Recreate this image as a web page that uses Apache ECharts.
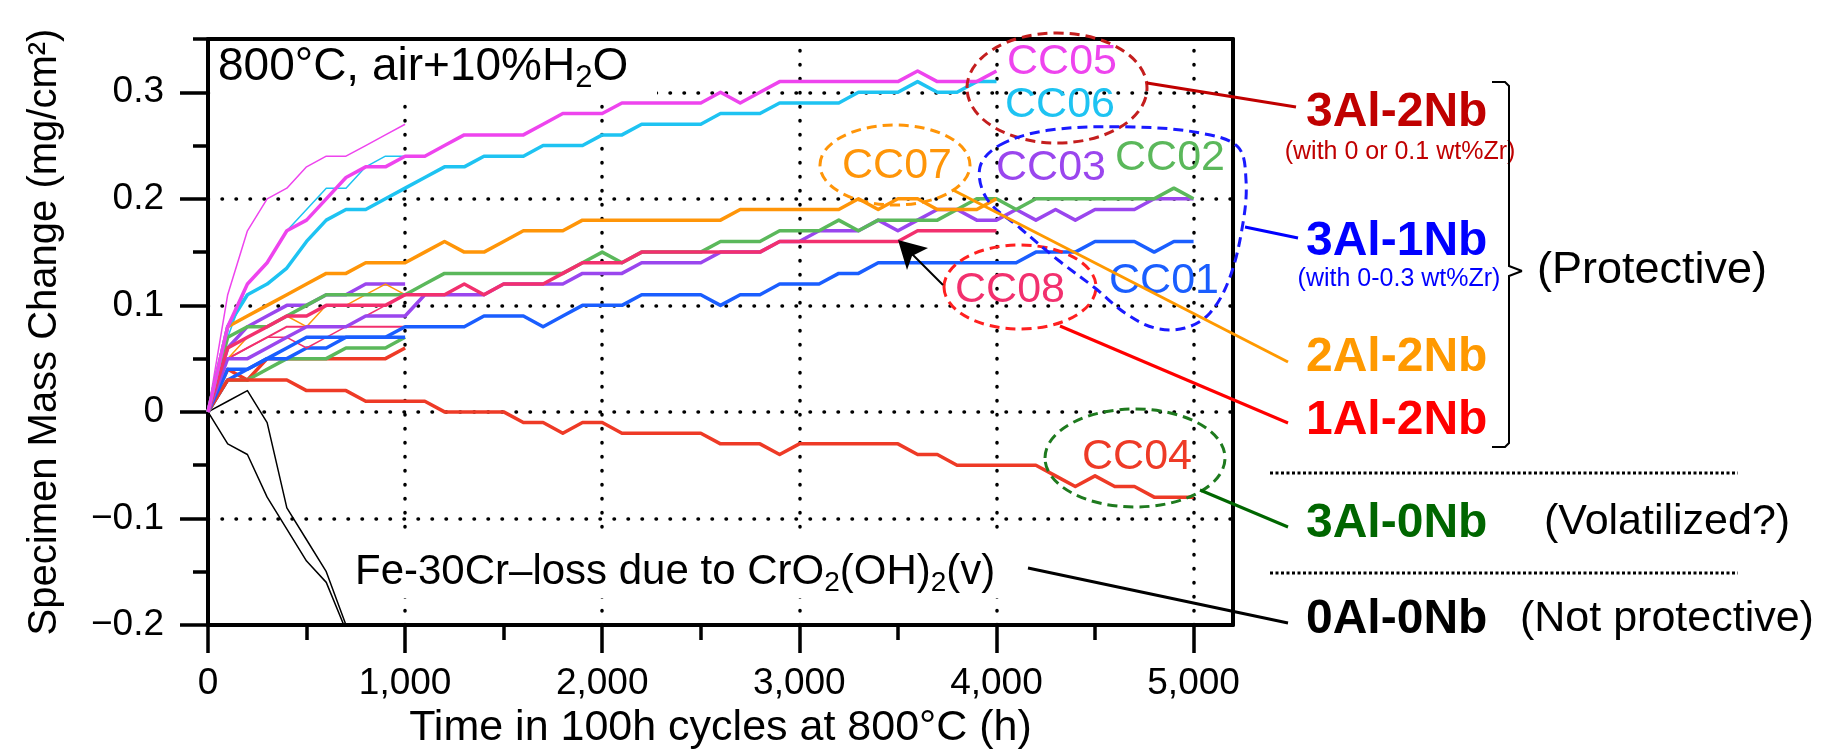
<!DOCTYPE html>
<html><head><meta charset="utf-8">
<script src="https://cdn.jsdelivr.net/npm/echarts@6/dist/echarts.min.js"></script>
<style>html,body{margin:0;padding:0;background:#fff}#c{width:1831px;height:753px}</style>
</head><body><div id="c"></div><script>
const FONT = '"Liberation Sans", Arial, Helvetica, sans-serif';

// ---- axes / ticks ----
const X_TICKS = [0, 1000, 2000, 3000, 4000, 5000];
const X_LABELS = ['0', '1,000', '2,000', '3,000', '4,000', '5,000'];
const X_MINOR = [500, 1500, 2500, 3500, 4500];
const Y_TICKS = [-0.2, -0.1, 0, 0.1, 0.2, 0.3];
const Y_LABELS = ['\u22120.2', '\u22120.1', '0', '0.1', '0.2', '0.3'];
const Y_MINOR = [-0.15, -0.05, 0.05, 0.15, 0.25, 0.35];
const GRID_X = [1000, 2000, 3000, 4000, 5000];
const GRID_Y = [-0.1, 0, 0.1, 0.2, 0.3];

// ---- time (h) ----
const HOURS = [0,100,200,300,400,500,600,700,800,900,1000,1100,1200,1300,1400,1500,1600,1700,1800,1900,2000,
  2100,2200,2300,2400,2500,2600,2700,2800,2900,3000,3100,3200,3300,3400,3500,3600,3700,3800,3900,4000,
  4100,4200,4300,4400,4500,4600,4700,4800,4900,5000];

// ---- long-term series (mg/cm2) ----
const CC05 = [0,0.08,0.12,0.14,0.17,0.18,0.20,0.22,0.23,0.23,0.24,0.24,0.25,0.26,0.26,0.26,0.26,0.27,0.28,0.28,0.28,
  0.29,0.29,0.29,0.29,0.29,0.30,0.29,0.30,0.31,0.31,0.31,0.31,0.31,0.31,0.31,0.32,0.31,0.31,0.31,0.32];
const CC06 = [0,0.08,0.11,0.12,0.135,0.16,0.18,0.19,0.19,0.20,0.21,0.22,0.23,0.23,0.24,0.24,0.24,0.25,0.25,0.25,0.26,
  0.26,0.27,0.27,0.27,0.27,0.28,0.28,0.28,0.29,0.29,0.29,0.29,0.30,0.30,0.30,0.31,0.30,0.30,0.31,0.31];
const CC07 = [0,0.08,0.09,0.10,0.11,0.12,0.13,0.13,0.14,0.14,0.14,0.15,0.16,0.15,0.15,0.16,0.17,0.17,0.17,0.18,0.18,
  0.18,0.18,0.18,0.18,0.18,0.18,0.19,0.19,0.19,0.19,0.19,0.19,0.20,0.19,0.20,0.20,0.19,0.19,0.19,0.20];
const CC08 = [0,0.06,0.07,0.08,0.09,0.09,0.10,0.10,0.10,0.10,0.11,0.11,0.11,0.12,0.11,0.12,0.12,0.12,0.13,0.14,0.14,
  0.14,0.15,0.15,0.15,0.15,0.15,0.15,0.15,0.16,0.16,0.16,0.16,0.16,0.16,0.16,0.17,0.17,0.17,0.17,0.17];
const CC02 = [0,0.07,0.08,0.08,0.09,0.10,0.11,0.11,0.11,0.11,0.11,0.12,0.13,0.13,0.13,0.13,0.13,0.13,0.13,0.14,0.15,
  0.14,0.15,0.15,0.15,0.15,0.16,0.16,0.16,0.17,0.17,0.17,0.18,0.17,0.18,0.18,0.18,0.18,0.19,0.20,0.20,
  0.19,0.20,0.20,0.20,0.20,0.20,0.20,0.20,0.21,0.20];
const CC03 = [0,0.05,0.05,0.06,0.07,0.08,0.08,0.08,0.09,0.09,0.09,0.11,0.11,0.11,0.11,0.12,0.12,0.12,0.12,0.13,0.13,
  0.13,0.14,0.14,0.14,0.14,0.15,0.15,0.15,0.16,0.16,0.17,0.17,0.17,0.18,0.17,0.18,0.19,0.19,0.18,0.18,
  0.19,0.18,0.19,0.18,0.19,0.19,0.19,0.20,0.20,0.20];
const CC01 = [0,0.04,0.04,0.05,0.06,0.07,0.07,0.07,0.07,0.07,0.08,0.08,0.08,0.08,0.09,0.09,0.09,0.08,0.09,0.10,0.10,
  0.10,0.11,0.11,0.11,0.11,0.10,0.11,0.11,0.12,0.12,0.12,0.13,0.13,0.14,0.14,0.14,0.14,0.14,0.14,0.14,
  0.14,0.15,0.15,0.15,0.16,0.16,0.16,0.15,0.16,0.16];
const CC04 = [0,0.03,0.03,0.03,0.03,0.02,0.02,0.02,0.01,0.01,0.01,0.01,0,0,0,0,-0.01,-0.01,-0.02,-0.01,-0.01,
  -0.02,-0.02,-0.02,-0.02,-0.02,-0.03,-0.03,-0.03,-0.04,-0.03,-0.03,-0.03,-0.03,-0.03,-0.03,-0.04,-0.04,-0.05,-0.05,-0.05,
  -0.05,-0.05,-0.06,-0.07,-0.06,-0.07,-0.07,-0.08,-0.08,-0.08];

// ---- short-term (1,000 h) series ----
const S_MAG = [0,0.11,0.17,0.20,0.21,0.23,0.24,0.24,0.25,0.26,0.27];
const S_CYAN = [0,0.07,0.12,0.14,0.17,0.19,0.21,0.21,0.23,0.24,0.24];
const S_ORANGE = [0,0.05,0.07,0.08,0.09,0.08,0.10,0.10,0.11,0.12,0.11];
const S_PINK1 = [0,0.05,0.06,0.07,0.07,0.06,0.07,0.08,0.09,0.10,0.11];
const S_PINK2 = [0,0.05,0.06,0.07,0.08,0.08,0.08,0.08,0.08,0.08,0.08];
const S_PURPLE = [0,0.06,0.08,0.09,0.10,0.10,0.11,0.11,0.12,0.12,0.12];
const S_BLUE = [0,0.03,0.04,0.05,0.05,0.06,0.06,0.07,0.07,0.07,0.07];
const S_GREEN = [0,0.03,0.03,0.04,0.05,0.05,0.05,0.06,0.06,0.06,0.07];
const S_RED = [0,0.04,0.03,0.05,0.05,0.05,0.05,0.05,0.05,0.05,0.06];

// ---- Fe-30Cr (0Al-0Nb) ----
const FE1 = [0,-0.03,-0.04,-0.08,-0.11,-0.14,-0.16,-0.205,-0.25];
const FE2 = [0,0.01,0.02,-0.01,-0.09,-0.12,-0.15,-0.20,-0.25];

const C = {mag:'#EE44EE', cyan:'#1EC3F2', orange:'#FF9508', pink:'#F2306E', green:'#5BB85B',
  purple:'#9A46EE', blue:'#1A5EFF', red:'#EE3A26'};

function pairs(vals){ return vals.map((v,i)=>[HOURS[i], v]); }
function lab(ticks, labels, v){ const i = ticks.findIndex(t=>Math.abs(t-v)<1e-9); return i<0?'':labels[i]; }
function ln(name, vals, color, w, z){
  return {type:'line', name, data:pairs(vals), showSymbol:false, symbol:'none', silent:true, z:z||3,
    lineStyle:{color, width:w, join:'round'}, itemStyle:{color}};
}
const dotted = {color:'#000', width:3.5, type:[0.5,13.5], cap:'round', opacity:1};

const series = [
  {type:'line', name:'grid', data:[[0,0]], showSymbol:false, symbol:'none', silent:true, z:1,
   lineStyle:{opacity:0},
   markLine:{silent:true, z:1, symbol:'none', label:{show:false}, lineStyle:dotted, animation:false,
     data:[...GRID_Y.map(v=>({yAxis:v})), ...GRID_X.map(v=>({xAxis:v}))]}},
  ln('Fe1', FE1, '#000', 1.5), ln('Fe2', FE2, '#000', 1.5),
  ln('sRed', S_RED, C.red, 3.5), ln('sGreen', S_GREEN, C.green, 3.5), ln('sBlue', S_BLUE, C.blue, 3.5),
  ln('sPurple', S_PURPLE, C.purple, 3.5), ln('sPink2', S_PINK2, C.pink, 2),
  ln('sPink1', S_PINK1, C.pink, 1.5), ln('sOrange', S_ORANGE, C.orange, 1.5),
  ln('sCyan', S_CYAN, C.cyan, 1.5), ln('sMag', S_MAG, C.mag, 1.5),
  ln('CC04', CC04, C.red, 3.5, 4), ln('CC01', CC01, C.blue, 3.5, 4), ln('CC03', CC03, C.purple, 3.5, 4),
  ln('CC02', CC02, C.green, 3.5, 4), ln('CC08', CC08, C.pink, 3.5, 4), ln('CC07', CC07, C.orange, 3.5, 4),
  ln('CC06', CC06, C.cyan, 3.5, 4), ln('CC05', CC05, C.mag, 3.5, 4)
];

function T(x, y, text, size, color, extra){
  return {type:'text', x, y, z:100, silent:true,
    style:Object.assign({text, fontSize:size, fontFamily:FONT, fill:color, align:'left', verticalAlign:'middle',
      textAlign:'left', textVerticalAlign:'middle'}, extra||{})};
}
function Tc(x,y,text,size,color,extra){ return T(x,y,text,size,color,Object.assign({align:'center',textAlign:'center'},extra||{})); }
function L(x1,y1,x2,y2,color,w,dash){
  return {type:'line', z:100, silent:true, shape:{x1,y1,x2,y2}, style:{stroke:color, lineWidth:w||3, lineDash:dash||null}};
}
function E(cx,cy,rx,ry,color){
  return {type:'ellipse', z:100, silent:true, shape:{cx,cy,rx,ry}, style:{fill:'none', stroke:color, lineWidth:3, lineDash:[10,6]}};
}
function W(x,y,width,height){
  return {type:'rect', z:2, silent:true, shape:{x,y,width,height}, style:{fill:'#fff'}};
}
const rich = (main, sub) => ({
  a:{fontSize:main, fontFamily:FONT, fill:'#000', lineHeight:main+8, verticalAlign:'middle'},
  s:{fontSize:sub, fontFamily:FONT, fill:'#000', lineHeight:sub, verticalAlign:'bottom'}
});

const graphic = [
  W(211, 41, 446, 60),
  W(350, 538, 662, 60),
  T(218, 67, '{a|800°C, air+10%H}{s|2}{a|O}', 46, '#000', {rich:rich(46,31)}),
  T(355, 572, '{a|Fe-30Cr\u2013loss due to CrO}{s|2}{a|(OH)}{s|2}{a|(v)}', 42, '#000', {rich:rich(42,28)}),
  Tc(1062, 62, 'CC05', 43, C.mag), Tc(1060, 105, 'CC06', 43, C.cyan),
  Tc(897, 166, 'CC07', 43, C.orange), Tc(1051, 168, 'CC03', 43, C.purple),
  Tc(1170, 158, 'CC02', 43, C.green), Tc(1164, 281, 'CC01', 43, C.blue),
  Tc(1010, 290, 'CC08', 43, C.pink), Tc(1137, 457, 'CC04', 43, C.red),
  E(1057, 88, 90, 55, '#C41E1E'), E(895, 165, 75, 40, '#FF9508'),
  E(1020, 287, 76, 42, '#FF2020'), E(1135, 458, 90, 49, '#1E7A1E'),
  {type:'polygon', z:100, silent:true, shape:{smooth:0.35, points:[[1000,145],[1050,130],[1133,127],[1200,133],[1238,147],
    [1246,180],[1243,223],[1230,277],[1210,313],[1185,328],[1155,328],[1125,313],[1095,288],[1058,260],[1020,228],[987,199],[980,167]]},
   style:{fill:'none', stroke:'#1A1AFF', lineWidth:3, lineDash:[10,6]}},
  L(1147,83,1296,107,'#C00000',3), L(1245,227,1298,238,'#0000FF',3), L(953,190,1288,362,'#FF9900',3),
  L(1060,326,1288,423,'#FF0000',3), L(1200,490,1288,527,'#006600',3), L(1028,568,1288,623,'#000',3),
  L(943,285,905,247,'#000',2),
  {type:'polygon', z:100, silent:true, shape:{points:[[898,240],[928,248],[912,256],[907,270]]}, style:{fill:'#000'}},
  T(1306, 113, '3Al-2Nb', 48, '#C00000', {fontWeight:'bold'}),
  Tc(1400, 152, '(with 0 or 0.1 wt%Zr)', 25, '#C00000'),
  T(1306, 242, '3Al-1Nb', 48, '#0000FF', {fontWeight:'bold'}),
  Tc(1399, 279, '(with 0-0.3 wt%Zr)', 25, '#0000FF'),
  T(1306, 358, '2Al-2Nb', 48, '#FF9900', {fontWeight:'bold'}),
  T(1306, 421, '1Al-2Nb', 48, '#FF0000', {fontWeight:'bold'}),
  T(1306, 524, '3Al-0Nb', 48, '#006600', {fontWeight:'bold'}),
  T(1306, 620, '0Al-0Nb', 48, '#000', {fontWeight:'bold'}),
  T(1537, 271, '(Protective)', 45, '#000'),
  T(1544, 522, '(Volatilized?)', 43, '#000'),
  T(1520, 619, '(Not protective)', 43, '#000'),
  {type:'polyline', z:100, silent:true, shape:{points:[[1492,82],[1505,82],[1509,86],[1509,266],[1522,271]]}, style:{fill:'none', stroke:'#000', lineWidth:2}},
  {type:'polyline', z:100, silent:true, shape:{points:[[1522,271],[1509,276],[1509,443],[1505,447],[1492,447]]}, style:{fill:'none', stroke:'#000', lineWidth:2}},
  L(1270,473,1738,473,'#000',3,[3,2.5]), L(1270,573,1738,573,'#000',3,[3,2.5])
];

const axisCommon = {type:'value', splitLine:{show:false}};
const option = {
  animation:false,
  backgroundColor:'#fff',
  grid:{left:208, right:598, top:39, bottom:128, containLabel:false, outerBoundsMode:'none'},
  xAxis:[
    Object.assign({}, axisCommon, {min:0, max:5200, position:'bottom',
      name:'Time in 100h cycles at 800°C (h)', nameLocation:'middle', nameGap:82,
      nameTextStyle:{fontSize:43, fontFamily:FONT, color:'#000'},
      axisLine:{onZero:false, lineStyle:{color:'#000', width:4}},
      axisTick:{customValues:X_TICKS, length:28, lineStyle:{color:'#000', width:3.5}},
      axisLabel:{customValues:X_TICKS, formatter:v=>lab(X_TICKS,X_LABELS,v), fontSize:37, fontFamily:FONT, color:'#000', margin:40}}),
    Object.assign({}, axisCommon, {min:0, max:5200, position:'top',
      axisLine:{onZero:false, lineStyle:{color:'#000', width:4}}, axisTick:{show:false}, axisLabel:{show:false}}),
    Object.assign({}, axisCommon, {min:0, max:5200, position:'bottom',
      axisLine:{show:false, onZero:false}, axisTick:{customValues:X_MINOR, length:15, lineStyle:{color:'#000', width:3.5}},
      axisLabel:{show:false}})
  ],
  yAxis:[
    Object.assign({}, axisCommon, {min:-0.2, max:0.35, position:'left',
      name:'Specimen Mass Change (mg/cm\u00B2)', nameLocation:'middle', nameGap:143, nameRotate:90,
      nameTextStyle:{fontSize:40, fontFamily:FONT, color:'#000'},
      axisLine:{onZero:false, lineStyle:{color:'#000', width:4}},
      axisTick:{customValues:Y_TICKS, length:28, lineStyle:{color:'#000', width:3.5}},
      axisLabel:{customValues:Y_TICKS, formatter:v=>lab(Y_TICKS,Y_LABELS,v), fontSize:37, fontFamily:FONT, color:'#000', margin:44}}),
    Object.assign({}, axisCommon, {min:-0.2, max:0.35, position:'right',
      axisLine:{onZero:false, lineStyle:{color:'#000', width:4}}, axisTick:{show:false}, axisLabel:{show:false}}),
    Object.assign({}, axisCommon, {min:-0.2, max:0.35, position:'left',
      axisLine:{show:false, onZero:false}, axisTick:{customValues:Y_MINOR, length:15, lineStyle:{color:'#000', width:3.5}},
      axisLabel:{show:false}})
  ],
  series,
  graphic
};
const chart = echarts.init(document.getElementById('c'), null, {renderer:'canvas'});
chart.setOption(option);
</script></body></html>
